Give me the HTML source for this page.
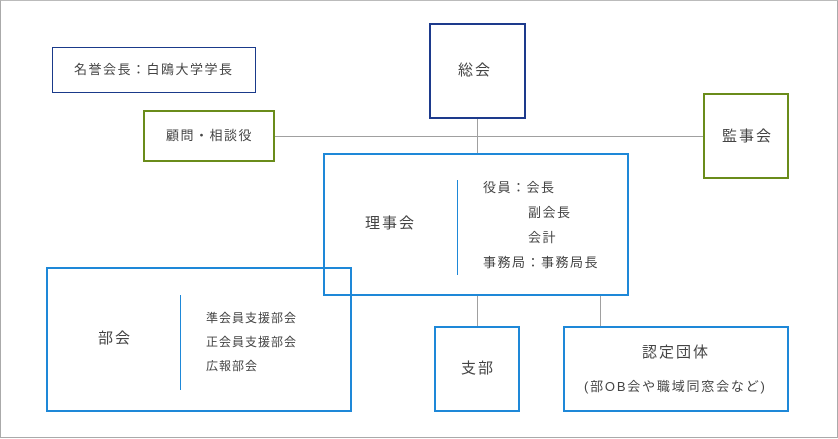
<!DOCTYPE html>
<html><head><meta charset="utf-8"><style>
body{margin:0;width:838px;height:439px;background:#fff;position:relative;overflow:hidden;font-family:"Liberation Sans","Noto Sans CJK JP",sans-serif;color:#444}
.b{position:absolute;box-sizing:border-box;background:transparent}
.t{position:absolute;white-space:nowrap;line-height:1;letter-spacing:1.5px}
.l{position:absolute;background:#a0a0a0}
</style></head><body>
<div class="b" style="left:0;top:0;width:838px;height:438px;border:1px solid #aaa;border-top-color:#bbb"></div>
<div class="l" style="left:274px;top:136px;width:430px;height:1px"></div>
<div class="l" style="left:477px;top:118px;width:1px;height:36px"></div>
<div class="l" style="left:477px;top:294px;width:1px;height:33px"></div>
<div class="l" style="left:600px;top:294px;width:1px;height:33px"></div>
<div class="b" style="left:52px;top:47px;width:204px;height:46px;border:1px solid #1a3a8a"></div>
<div class="t" style="left:74px;top:63px;font-size:13px">名誉会長：白鴎大学学長</div>
<div class="b" style="left:143px;top:110px;width:132px;height:52px;border:2px solid #6a8c1a"></div>
<div class="t" style="left:166px;top:129px;font-size:13px">顧問・相談役</div>
<div class="b" style="left:429px;top:23px;width:97px;height:96px;border:2px solid #1d3a8c"></div>
<div class="t" style="left:458px;top:63px;font-size:15px;letter-spacing:2px">総会</div>
<div class="b" style="left:703px;top:93px;width:86px;height:86px;border:2px solid #6a8c1a"></div>
<div class="t" style="left:722px;top:129px;font-size:15px;letter-spacing:2px">監事会</div>
<div class="b" style="left:323px;top:153px;width:306px;height:143px;border:2px solid #1e88d8"></div>
<div class="t" style="left:365px;top:216px;font-size:15px;letter-spacing:2px">理事会</div>
<div class="l" style="left:457px;top:180px;width:1px;height:95px;background:#1e88d8"></div>
<div class="t" style="left:483px;top:181px;font-size:13px">役員：会長</div>
<div class="t" style="left:528px;top:206px;font-size:13px">副会長</div>
<div class="t" style="left:528px;top:231px;font-size:13px">会計</div>
<div class="t" style="left:483px;top:256px;font-size:13px">事務局：事務局長</div>
<div class="b" style="left:46px;top:267px;width:306px;height:145px;border:2px solid #1e88d8"></div>
<div class="t" style="left:98px;top:331px;font-size:15px;letter-spacing:2px">部会</div>
<div class="l" style="left:180px;top:295px;width:1px;height:95px;background:#1e88d8"></div>
<div class="t" style="left:206px;top:312px;font-size:12px;letter-spacing:1px">準会員支援部会</div>
<div class="t" style="left:206px;top:336px;font-size:12px;letter-spacing:1px">正会員支援部会</div>
<div class="t" style="left:206px;top:360px;font-size:12px;letter-spacing:1px">広報部会</div>
<div class="b" style="left:434px;top:326px;width:86px;height:86px;border:2px solid #1e88d8"></div>
<div class="t" style="left:461px;top:361px;font-size:15px;letter-spacing:2px">支部</div>
<div class="b" style="left:563px;top:326px;width:226px;height:86px;border:2px solid #1e88d8"></div>
<div class="t" style="left:642px;top:345px;font-size:15px;letter-spacing:2px">認定団体</div>
<div class="t" style="left:584px;top:380px;font-size:13px;letter-spacing:1.8px">(部OB会や職域同窓会など)</div>
</body></html>
